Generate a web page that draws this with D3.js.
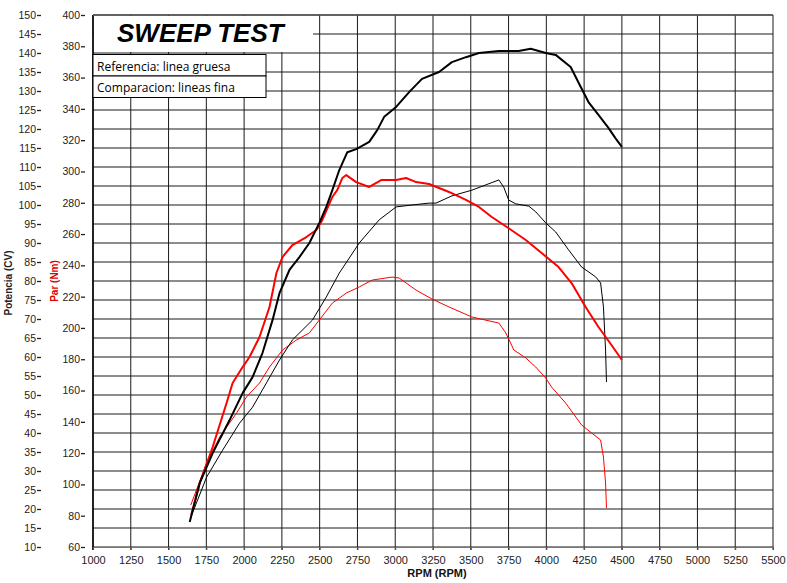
<!DOCTYPE html>
<html>
<head>
<meta charset="utf-8">
<script src="https://cdn.jsdelivr.net/npm/d3@7"></script>
<style>
  html, body { margin: 0; padding: 0; background: #fff; }
  svg { display: block; }
</style>
</head>
<body>
<svg id="chart" width="787" height="583"></svg>
<script>
// ---- data ----
const rpmTicks = [1000,1250,1500,1750,2000,2250,2500,2750,3000,3250,3500,3750,4000,4250,4500,4750,5000,5250,5500];
const cvTicks = [10,15,20,25,30,35,40,45,50,55,60,65,70,75,80,85,90,95,100,105,110,115,120,125,130,135,140,145,150];
const nmTicks = [60,80,100,120,140,160,180,200,220,240,260,280,300,320,340,360,380,400];

const titleText = "SWEEP TEST";
const legendLabels = ["Referencia: linea gruesa", "Comparacion: lineas fina"];

// reference power (CV) – thick black
const refPower = [[1640,16.6],[1706,26.8],[1792,34.7],[1904,43.4],[1990,50.5],[2056,54.7],[2122,61.1],[2188,69.7],[2234,76.8],[2300,82.9],[2366,86.3],[2432,90.0],[2498,95.3],[2544,99.5],[2584,103.9],[2630,109.2],[2683,113.9],[2742,114.7],[2828,116.6],[2881,119.7],[2927,123.2],[3006,125.8],[3092,129.7],[3177,133.2],[3290,135.0],[3375,137.6],[3468,138.9],[3554,140.0],[3686,140.5],[3817,140.5],[3897,141.1],[3996,140.0],[4062,139.5],[4161,136.3],[4227,131.1],[4279,127.1],[4345,123.7],[4411,120.3],[4457,117.6],[4500,115.3]];
// reference torque (Nm) – thick red
const refTorque = [[1650,80.4],[1706,100.9],[1792,123.9],[1884,152.0],[1924,164.8],[1990,175.0],[2036,181.4],[2102,194.2],[2168,213.4],[2214,235.1],[2254,245.3],[2320,253.0],[2412,258.1],[2478,262.6],[2518,269.0],[2584,283.7],[2617,288.2],[2650,295.8],[2676,297.7],[2742,293.2],[2828,290.1],[2907,294.5],[3006,294.5],[3072,295.8],[3138,293.2],[3224,292.0],[3356,286.9],[3468,281.8],[3554,277.3],[3639,270.9],[3751,263.7],[3864,256.2],[3969,247.9],[4081,238.9],[4167,228.7],[4260,213.4],[4345,200.6],[4431,189.1],[4500,179.5]];
// comparison power (CV) – thin black
const cmpPower = [[1645,17.6],[1752,28.4],[1858,35.5],[1970,42.6],[2056,46.8],[2148,53.2],[2234,59.2],[2320,64.5],[2452,69.7],[2544,75.8],[2630,82.1],[2762,90.0],[2894,96.1],[3006,99.5],[3111,100.0],[3224,100.5],[3270,100.5],[3375,102.4],[3507,103.9],[3600,105.3],[3686,106.6],[3718,104.7],[3751,101.3],[3798,100.3],[3884,99.7],[3930,98.2],[3996,95.3],[4062,92.9],[4147,88.2],[4233,83.7],[4326,81.1],[4359,79.5],[4378,73.2],[4392,61.8],[4398,53.4]];
// comparison torque (Nm) – thin red
const cmpTorque = [[1647,86.8],[1752,113.7],[1838,130.3],[1950,145.6],[2016,155.9],[2102,164.8],[2168,175.0],[2254,185.9],[2346,192.3],[2432,196.8],[2498,205.1],[2584,215.9],[2676,222.3],[2762,226.2],[2848,230.6],[2979,232.5],[3026,231.9],[3138,224.2],[3243,218.5],[3356,213.4],[3507,207.0],[3686,203.1],[3732,196.8],[3785,185.9],[3864,180.8],[3930,175.0],[3996,168.0],[4035,162.2],[4128,152.0],[4233,138.0],[4299,132.9],[4359,128.4],[4378,117.5],[4392,100.9],[4398,84.9]];

// ---- layout ----
const L = 93, R = 773, T = 15, B = 547;
const svg = d3.select("#chart");

const x = d3.scaleLinear().domain([1000, 5500]).range([L, R]);
const yCV = d3.scaleLinear().domain([10, 150]).range([B, T]);
const yNm = d3.scaleLinear().domain([60, 400]).range([B, T]);

// grid
const grid = svg.append("g");
grid.selectAll("line.h").data(cvTicks).join("line")
  .attr("x1", L).attr("x2", R)
  .attr("y1", d => yCV(d)).attr("y2", d => yCV(d))
  .attr("stroke", "#1a1a1a").attr("stroke-width", 1);
grid.selectAll("line.v").data(rpmTicks).join("line")
  .attr("x1", d => x(d)).attr("x2", d => x(d))
  .attr("y1", T).attr("y2", B + 3)
  .attr("stroke", "#1a1a1a").attr("stroke-width", 1);
// left border
svg.append("line").attr("x1", L).attr("x2", L).attr("y1", T).attr("y2", B + 3)
  .attr("stroke", "#000").attr("stroke-width", 1.5);
svg.append("line").attr("x1", L).attr("x2", R).attr("y1", T).attr("y2", T)
  .attr("stroke", "#555").attr("stroke-width", 1.5);

// axes
const cvAxis = svg.append("g").attr("transform", "translate(41,0)")
  .call(d3.axisLeft(yCV).tickValues(cvTicks).tickSize(4).tickPadding(1).tickFormat(d3.format("d")));
const nmAxis = svg.append("g").attr("transform", "translate(85,0)")
  .call(d3.axisLeft(yNm).tickValues(nmTicks).tickSize(4).tickPadding(1).tickFormat(d3.format("d")));
[cvAxis, nmAxis].forEach(g => {
  g.select(".domain").remove();
  g.selectAll(".tick line").attr("stroke", "#222").attr("stroke-width", 1.3);
  g.selectAll(".tick text").attr("fill", "#222")
    .style("font-family", "Liberation Sans, Arial, sans-serif").style("font-size", "10.5px");
});
const xAxis = svg.append("g").attr("transform", `translate(0,${B})`)
  .call(d3.axisBottom(x).tickValues(rpmTicks).tickSize(3).tickPadding(6).tickFormat(d3.format("d")));
xAxis.select(".domain").attr("stroke", "#777").attr("d", `M${L},0.5H${R}`);
xAxis.selectAll(".tick line").attr("stroke", "#555");
xAxis.selectAll(".tick text").attr("fill", "#222")
  .style("font-family", "Liberation Sans Narrow, Liberation Sans, Arial, sans-serif").style("font-size", "11px");

// axis titles
svg.append("text").attr("transform", "translate(12,283) rotate(-90)")
  .attr("text-anchor", "middle").attr("fill", "#222")
  .style("font-family", "Liberation Sans, Arial, sans-serif").style("font-size", "10px").style("font-weight", "bold")
  .text("Potencia (CV)");
svg.append("text").attr("transform", "translate(58,281) rotate(-90)")
  .attr("text-anchor", "middle").attr("fill", "#e00000")
  .style("font-family", "Liberation Sans, Arial, sans-serif").style("font-size", "10px").style("font-weight", "bold")
  .text("Par (Nm)");
svg.append("text").attr("x", 437).attr("y", 577)
  .attr("text-anchor", "middle").attr("fill", "#111")
  .style("font-family", "Liberation Sans Narrow, Liberation Sans, Arial, sans-serif").style("font-size", "11px").style("font-weight", "bold")
  .text("RPM (RPM)");

// title box
svg.append("rect").attr("x", L + 1).attr("y", T + 1).attr("width", 313 - L - 1).attr("height", 52.5 - T - 1.5)
  .attr("fill", "#fff");
svg.append("text").attr("x", 117).attr("y", 42)
  .style("font-family", "Liberation Sans, Arial, sans-serif").style("font-size", "26px")
  .style("font-weight", "bold").style("font-style", "italic").attr("fill", "#000")
  .text(titleText);

// legend boxes
const lg = svg.append("g");
legendLabels.forEach((t, i) => {
  const y0 = 54.5 + i * 21.5;
  lg.append("rect").attr("x", L).attr("y", y0).attr("width", 266 - L).attr("height", 21.5)
    .attr("fill", "#fff").attr("stroke", "#000").attr("stroke-width", 1);
  lg.append("text").attr("x", 97).attr("y", y0 + 16)
    .style("font-family", "Open Sans, sans-serif").style("font-size", "12px").attr("fill", "#000")
    .text(t);
});

// curves
const lineCV = d3.line().x(d => x(d[0])).y(d => yCV(d[1]));
const lineNm = d3.line().x(d => x(d[0])).y(d => yNm(d[1]));
const curves = svg.append("g").attr("fill", "none").attr("stroke-linejoin", "round");
curves.append("path").datum(cmpTorque).attr("d", lineNm).attr("stroke", "#ff0000").attr("stroke-width", 1);
curves.append("path").datum(cmpPower).attr("d", lineCV).attr("stroke", "#000").attr("stroke-width", 1);
curves.append("path").datum(refTorque).attr("d", lineNm).attr("stroke", "#ff0000").attr("stroke-width", 2);
curves.append("path").datum(refPower).attr("d", lineCV).attr("stroke", "#000").attr("stroke-width", 2);
</script>
</body>
</html>
